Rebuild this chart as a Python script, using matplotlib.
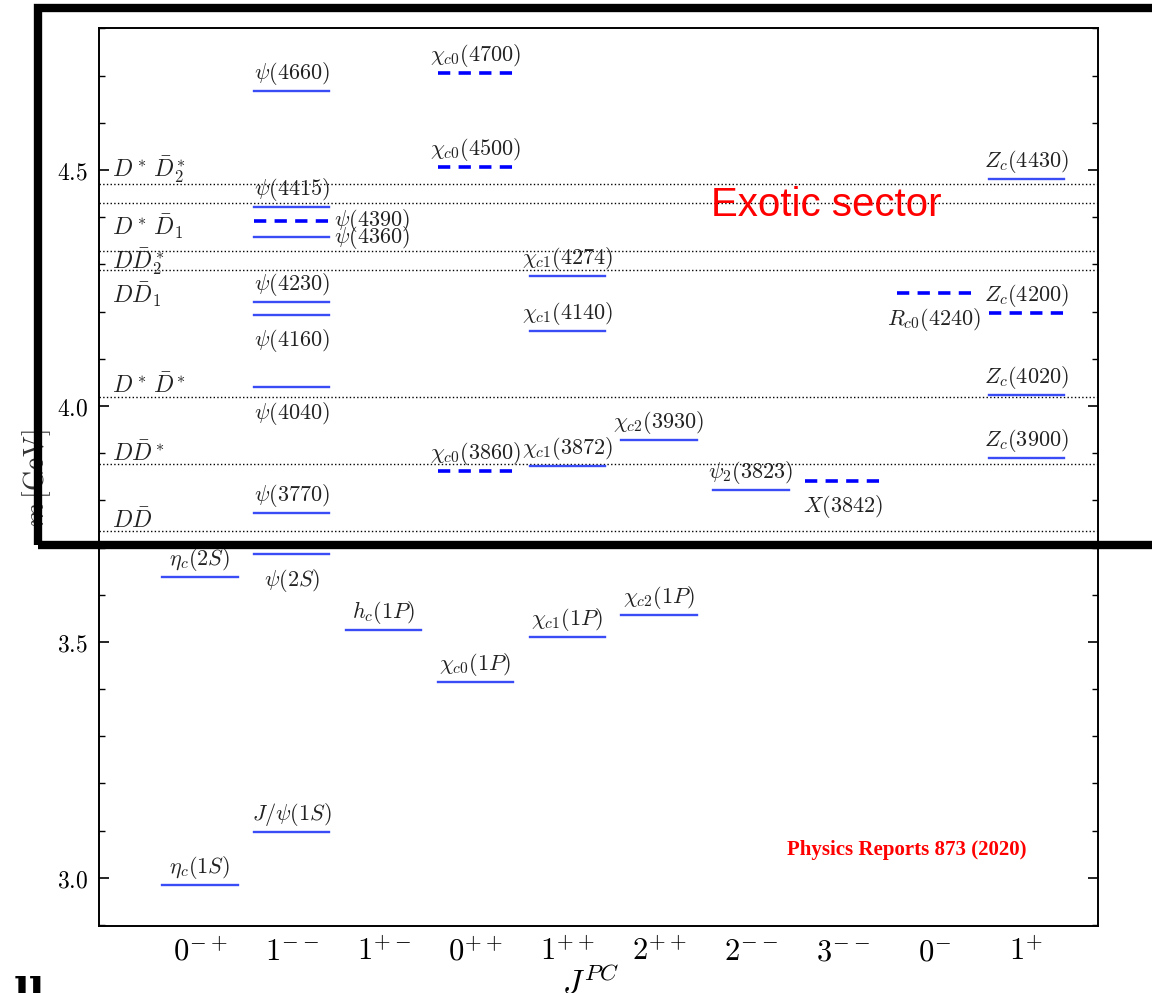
import matplotlib
matplotlib.use('Agg')
import matplotlib.pyplot as plt
from matplotlib.patches import Rectangle
from matplotlib.ticker import MultipleLocator

plt.rcParams['mathtext.fontset'] = 'cm'

# J^PC columns
jpc = [r'$0^{-+}$', r'$1^{--}$', r'$1^{+-}$', r'$0^{++}$', r'$1^{++}$',
       r'$2^{++}$', r'$2^{--}$', r'$3^{--}$', r'$0^{-}$', r'$1^{+}$']

# charmonium(-like) states
names = [r'$\eta_c(1S)$', r'$\eta_c(2S)$',
         r'$J/\psi(1S)$', r'$\psi(2S)$', r'$\psi(3770)$', r'$\psi(4040)$',
         r'$\psi(4160)$', r'$\psi(4230)$', r'$\psi(4360)$', r'$\psi(4390)$',
         r'$\psi(4415)$', r'$\psi(4660)$',
         r'$h_c(1P)$',
         r'$\chi_{c0}(1P)$', r'$\chi_{c0}(3860)$', r'$\chi_{c0}(4500)$', r'$\chi_{c0}(4700)$',
         r'$\chi_{c1}(1P)$', r'$\chi_{c1}(3872)$', r'$\chi_{c1}(4140)$', r'$\chi_{c1}(4274)$',
         r'$\chi_{c2}(1P)$', r'$\chi_{c2}(3930)$',
         r'$\psi_2(3823)$',
         r'$X(3842)$',
         r'$R_{c0}(4240)$',
         r'$Z_c(3900)$', r'$Z_c(4020)$', r'$Z_c(4200)$', r'$Z_c(4430)$']
col = [0, 0,
       1, 1, 1, 1, 1, 1, 1, 1, 1, 1,
       2,
       3, 3, 3, 3,
       4, 4, 4, 4,
       5, 5,
       6,
       7,
       8,
       9, 9, 9, 9]
mass = [2.984, 3.638,
        3.097, 3.686, 3.773, 4.040, 4.193, 4.220, 4.358, 4.392, 4.421, 4.667,
        3.525,
        3.414, 3.862, 4.507, 4.705,
        3.511, 3.872, 4.158, 4.275,
        3.556, 3.928,
        3.822,
        3.842,
        4.239,
        3.890, 4.023, 4.197, 4.481]
dashed = [False, False,
          False, False, False, False, False, False, False, True, False, False,
          False,
          False, True, True, True,
          False, False, False, False,
          False, False,
          False,
          True,
          True,
          False, False, True, False]
where = ['a', 'a',
         'a', 'b', 'a', 'b', 'b', 'a', 'r', 'r', 'a', 'a',
         'a',
         'a', 'a', 'a', 'a',
         'a', 'a', 'a', 'a',
         'a', 'a',
         'a',
         'b',
         'b',
         'a', 'a', 'a', 'a']

# open-charm thresholds
thr_names = [r'$D^*\,\bar{D}_2^*$', r'$D^*\,\bar{D}_1$', r'$D\bar{D}_2^*$', r'$D\bar{D}_1$',
             r'$D^*\,\bar{D}^*$', r'$D\bar{D}^*$', r'$D\bar{D}$']
thr_mass = [4.470, 4.430, 4.328, 4.288, 4.018, 3.876, 3.734]
thr_label_y = [4.500, 4.381, 4.307, 4.235, 4.044, 3.900, 3.758]

fig = plt.figure(figsize=(11.52, 9.93), dpi=100)
ax = fig.add_axes([0.0859, 0.0675, 0.8672, 0.9043])

for m in thr_mass:
    ax.axhline(m, color='k', ls=':', lw=1.0, zorder=1)
for name, y in zip(thr_names, thr_label_y):
    ax.text(-0.96, y, name, ha='left', va='center', fontsize=17, color='#222222')

hw = 0.41
for name, c, m, d, w in zip(names, col, mass, dashed, where):
    if d:
        ax.plot([c - hw, c + hw], [m, m], color='#0000ff', lw=2.6,
                dashes=(3.4, 2.3), solid_capstyle='butt', zorder=3)
    else:
        ax.plot([c - hw, c + hw], [m, m], color='#3a4cf5', lw=1.7, zorder=3)
    if w == 'a':
        ax.annotate(name, (c, m), xytext=(0, 3), textcoords='offset points',
                    ha='center', va='bottom', fontsize=16, color='#222222')
    elif w == 'b':
        ax.annotate(name, (c, m), xytext=(0, -9), textcoords='offset points',
                    ha='center', va='top', fontsize=16, color='#222222')
    else:
        ax.annotate(name, (c + hw, m), xytext=(3, 0), textcoords='offset points',
                    ha='left', va='center', fontsize=16, color='#222222')

ax.set_xlim(-1.10, 9.78)
ax.set_ylim(2.898, 4.801)
ax.set_xticks(range(len(jpc)))
ax.set_xticklabels(jpc, fontsize=22)
ax.tick_params(axis='x', length=0, pad=8)
ax.set_yticks([3.0, 3.5, 4.0, 4.5])
ax.set_yticklabels([r'$3.0$', r'$3.5$', r'$4.0$', r'$4.5$'], fontsize=17)
ax.yaxis.set_minor_locator(MultipleLocator(0.1))
ax.tick_params(axis='y', which='both', direction='in', left=True, right=True)
ax.tick_params(axis='y', which='major', length=7, width=1.2, pad=8)
ax.tick_params(axis='y', which='minor', length=4, width=1.0)
for s in ax.spines.values():
    s.set_linewidth(1.4)

fig.text(37 / 1152, 1 - 478 / 993, r'$m\,[\mathrm{GeV}]$', rotation=90,
         ha='center', va='center', fontsize=20, color='#333333')
fig.text(590 / 1152, 1 - 966 / 993, r'$J^{PC}$', ha='center', va='top', fontsize=24)
fig.text(14 / 1152, 1 - 976 / 993, 'll', ha='left', va='top', fontsize=30,
         fontweight='bold', family='DejaVu Serif')

# annotations on top of the chart
fig.add_artist(Rectangle((38 / 1152, 1 - 545 / 993), 1.2, (545 - 8) / 993,
                         transform=fig.transFigure, fill=False, ec='black',
                         lw=6, joinstyle='miter', zorder=10))
fig.text(826 / 1152, 1 - 205 / 993, 'Exotic sector', color='red', fontsize=29,
         family='Liberation Sans', ha='center', va='center')
fig.text(907 / 1152, 1 - 850 / 993, 'Physics Reports 873 (2020)', color='red',
         fontsize=15, fontweight='bold', family='Liberation Serif',
         ha='center', va='center')

fig.savefig('out.png', dpi=100)
